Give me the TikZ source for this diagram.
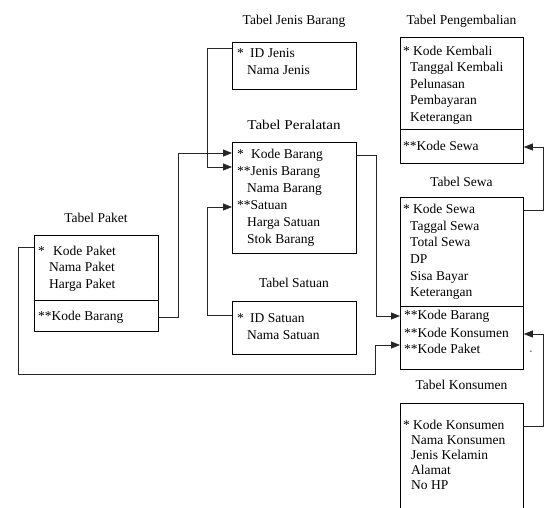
\documentclass[tikz,border=0pt]{standalone}
\usepackage{fontspec}
\setmainfont{Liberation Serif}
\usetikzlibrary{arrows.meta}
\begin{document}
\begin{tikzpicture}[x=1pt,y=-1pt,
  tbl/.style={draw=black, line width=0.8pt, anchor=north west, inner sep=0pt},
  ttl/.style={font=\fontsize{13.5}{16}\selectfont, inner sep=0pt, anchor=center},
  row/.style={font=\fontsize{13.5}{16}\selectfont, inner sep=0pt, anchor=west, text height=9pt, text depth=3pt},
  conn/.style={draw=black!85, line width=0.8pt},
  arr/.style={conn, -{Triangle[length=9pt,width=7pt]}},
  sep/.style={draw=black, line width=0.8pt}]
\useasboundingbox (0,0) rectangle (544,507);

% ---------- Tabel Paket ----------
\node[ttl] (tpaket) at (96,218) {Tabel Paket};
\node[tbl, minimum width=124pt, minimum height=96pt] (paket) at (34,235) {};
\draw[sep] (34,300) -- (158,300);
\node[row] (pkp) at (38,252) {\makebox[15pt][l]{*}Kode Paket};
\node[row] (pnp) at (49,268) {Nama Paket};
\node[row] (php) at (49,285) {Harga Paket};
\node[row] (pkb) at (38,317) {**Kode Barang};

% ---------- Tabel Jenis Barang ----------
\node[ttl] (tjenis) at (294,21) {Tabel Jenis Barang};
\node[tbl, minimum width=124pt, minimum height=47pt] (jenis) at (232,42) {};
\node[row] (jid) at (237,54) {\makebox[13pt][l]{*}ID Jenis};
\node[row] (jnm) at (247,71) {Nama Jenis};

% ---------- Tabel Peralatan ----------
\node[ttl] (tper) at (294,125) {\scalebox{1.12}[1]{Tabel Peralatan}};
\node[tbl, minimum width=124pt, minimum height=111pt] (per) at (232,142) {};
\node[row] (rkb) at (237,155) {\makebox[14pt][l]{*}Kode Barang};
\node[row] (rjb) at (237,172) {**Jenis Barang};
\node[row] (rnb) at (247,189) {Nama Barang};
\node[row] (rsat) at (237,206) {**Satuan};
\node[row] (rhs) at (247,223) {Harga Satuan};
\node[row] (rsb) at (247,240) {Stok Barang};

% ---------- Tabel Satuan ----------
\node[ttl] (tsat) at (294,283) {Tabel Satuan};
\node[tbl, minimum width=124pt, minimum height=53pt] (sat) at (232,301) {};
\node[row] (sid) at (237,319) {\makebox[13pt][l]{*}ID Satuan};
\node[row] (snm) at (247,336) {Nama Satuan};

% ---------- Tabel Pengembalian ----------
\node[ttl] (tpeng) at (461.5,21) {Tabel Pengembalian};
\node[tbl, minimum width=123pt, minimum height=126pt] (peng) at (400,37) {};
\draw[sep] (400,129) -- (523,129);
\node[row] (gkk) at (403,52) {\makebox[10pt][l]{*}Kode Kembali};
\node[row] (gtk) at (410,68) {Tanggal Kembali};
\node[row] (gpl) at (410,85) {Pelunasan};
\node[row] (gpb) at (410,101) {Pembayaran};
\node[row] (gkt) at (410,118) {Keterangan};
\node[row] (gks) at (403,147) {**Kode Sewa};

% ---------- Tabel Sewa ----------
\node[ttl] (tsewa) at (461.5,182) {Tabel Sewa};
\node[tbl, minimum width=123pt, minimum height=172pt] (sewa) at (400,197) {};
\draw[sep] (400,306) -- (523,306);
\node[row] (wks) at (403,210) {\makebox[10pt][l]{*}Kode Sewa};
\node[row] (wtg) at (410,227) {Taggal Sewa};
\node[row] (wts) at (410,243) {Total Sewa};
\node[row] (wdp) at (410,260) {DP};
\node[row] (wsb) at (410,277) {Sisa Bayar};
\node[row] (wkt) at (410,293) {Keterangan};
\node[row] (wkb) at (404,316) {**Kode Barang};
\node[row] (wkk) at (404,334) {**Kode Konsumen};
\node[row] (wkp) at (404,350) {**Kode Paket};
\node[font=\fontsize{8}{8}\selectfont, inner sep=0pt] (dash) at (531,352) {-};

% ---------- Tabel Konsumen ----------
\node[ttl] (tkons) at (461.5,385) {Tabel Konsumen};
\node[anchor=north west, inner sep=0pt, minimum width=123pt, minimum height=110pt] (kons) at (400,403) {};
\draw[sep] (kons.south west) -- (kons.north west) -- (kons.north east) -- (kons.south east);
\node[row] (kkk) at (403,426) {\makebox[10pt][l]{*}Kode Konsumen};
\node[row] (knk) at (411,441) {Nama Konsumen};
\node[row] (kjk) at (411,456) {Jenis Kelamin};
\node[row] (kal) at (411,471) {Alamat};
\node[row] (khp) at (411,486) {No HP};

% ---------- Connectors ----------
% Paket.KodeBarang -> Peralatan.KodeBarang
\draw[arr] (paket.east |- pkb) -- ++(20,0) |- ([yshift=2pt]per.west |- rkb);
% JenisBarang.ID -> Peralatan.JenisBarang
\draw[arr] ([yshift=6pt]jenis.west |- jid) -- ++(-25,0) |- ([yshift=5pt]per.west |- rjb);
% Satuan.ID -> Peralatan.Satuan
\draw[arr] ([yshift=4pt]sat.west |- sid) -- ++(-25,0) |- ([yshift=-1pt]per.west |- rsat);
% Peralatan.KodeBarang -> Sewa.KodeBarang
\draw[arr] (per.east |- rkb) -- ++(20,0) |- (sewa.west |- wkb);
% Paket.KodePaket -> Sewa.KodePaket
\draw[arr] ([yshift=5pt]paket.west |- pkp) -- ++(-16,0) -- ++(0,127) -- ++(357,0) |- ([yshift=5pt]sewa.west |- wkp);
% Sewa.KodeSewa -> Pengembalian.KodeSewa
\draw[arr] (sewa.east |- wks) -- ++(20,0) |- (peng.east |- gks);
% Konsumen.KodeKonsumen -> Sewa.KodeKonsumen
\draw[arr] (kons.east |- kkk) -- ++(20,0) |- (sewa.east |- wkk);
\end{tikzpicture}
\end{document}
